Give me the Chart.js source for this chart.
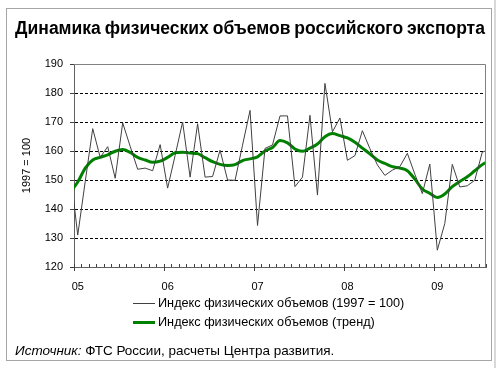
<!DOCTYPE html>
<html>
<head>
<meta charset="utf-8">
<script src="https://cdn.jsdelivr.net/npm/chart.js@4.4.1/dist/chart.umd.min.js"></script>
<style>
body{margin:0;background:#fff;font-family:"Liberation Sans",Arial,sans-serif;color:#000;}
#wrap{position:relative;width:500px;height:368px;overflow:hidden;background:#fff;}
#frame{position:absolute;left:6px;top:8px;width:484px;height:351px;border:1px solid #a6a6a6;}
#shade{position:absolute;left:494px;top:0;width:2px;height:368px;background:#d8d8d8;}
#chart{position:absolute;left:0;top:0;}
#title{position:absolute;left:0;top:18px;width:500px;text-align:center;font-weight:bold;font-size:17.5px;line-height:21px;word-spacing:-1px;}
.leg{position:absolute;left:133px;font-size:12.7px;line-height:14px;height:14px;white-space:nowrap;}
.leg i{display:inline-block;width:22px;vertical-align:middle;margin-right:3px;}
#src{position:absolute;left:15px;top:343px;font-size:13.5px;line-height:16px;white-space:nowrap;}
</style>
</head>
<body>
<div id="wrap">
  <div id="frame"></div>
  <div id="shade"></div>
  <canvas id="chart" width="500" height="300"></canvas>
  <div id="title">Динамика физических объемов российского экспорта</div>
  <div class="leg" style="top:296px"><i style="border-top:1px solid #404040"></i>Индекс физических объемов (1997 = 100)</div>
  <div class="leg" style="top:315px"><i style="border-top:3px solid #008000"></i>Индекс физических объемов (тренд)</div>
  <div id="src"><i>Источник:</i> ФТС России, расчеты Центра развития.</div>
</div>
<script>
// month index 0 = январь 2005; the series start one month earlier (Dec 2004), edge is clipped
var firstMonth = -1;
var yearStart = [0, 12, 24, 36, 48];
var yearLabels = ['05', '06', '07', '08', '09'];

var indexValues = [
  153, 131, 149.5, 167.7, 157.8, 161.5, 150.6, 169.7, 161.6, 153.7, 154.1, 153.2, 162.2,
  147.2, 158.5, 170, 151, 169.4, 151, 151.2, 160.3, 150, 149.9, 162, 174,
  134.3, 160.9, 162.1, 172.1, 172.1, 147.7, 151, 172.3, 144.8, 183.3, 166.6, 171.4,
  156.8, 158.4, 167, 160.8, 155.2, 151.6, 153.4, 154.6, 159.2, 152, 145.3, 155.5,
  125.8, 135, 155.4, 147.6, 148, 149.9, 159.6, 160.5
];
var trendValues = [
  145.8, 149.3, 154.1, 156.9, 157.8, 158.7, 159.9, 160.5, 159.5, 157.8, 156.9, 156.1, 156.5,
  157.8, 159.4, 159.6, 159.3, 159.1, 157.7, 156.3, 155.4, 155, 155.3, 156.7, 157.3,
  158, 160, 161.2, 163.6, 162.8, 160.7, 159.9, 161, 162.4, 164.9, 166, 165.3,
  164.5, 163, 161, 159, 156.9, 155.7, 154.6, 154.1, 153.2, 150.3, 146.9, 145.4,
  144, 145.2, 147.7, 149.5, 151.1, 153.2, 155.3, 156.8
];

function toPoints(arr){
  return arr.map(function(v, k){ return {x: firstMonth + k, y: v}; });
}

Chart.defaults.font.family = '"Liberation Sans", Arial, sans-serif';
Chart.defaults.color = '#000';

var plotFrame = {
  id: 'plotFrame',
  afterDraw: function(chart){
    var ctx = chart.ctx, a = chart.chartArea, x = chart.scales.x;
    ctx.save();
    ctx.strokeStyle = '#808080';
    ctx.lineWidth = 1;
    ctx.beginPath();
    ctx.moveTo(a.left, a.top + 0.5);
    ctx.lineTo(a.right - 0.5, a.top + 0.5);
    ctx.lineTo(a.right - 0.5, a.bottom);
    ctx.stroke();
    ctx.strokeStyle = '#404040';
    for (var m = -0.5; m <= 54.5; m++) {
      var px = Math.round(x.getPixelForValue(m)) + 0.5;
      var major = ((m + 0.5) % 12) === 0;
      ctx.beginPath();
      ctx.moveTo(px, a.bottom - 3);
      ctx.lineTo(px, a.bottom + (major ? 4 : 0));
      ctx.stroke();
    }
    ctx.restore();
  }
};

new Chart(document.getElementById('chart'), {
  type: 'line',
  data: {
    datasets: [{
      label: 'Индекс физических объемов (1997 = 100)',
      data: toPoints(indexValues),
      borderColor: '#404040',
      borderWidth: 1,
      pointRadius: 0,
      tension: 0,
      clip: 0
    }, {
      label: 'Индекс физических объемов (тренд)',
      data: toPoints(trendValues),
      borderColor: '#008000',
      borderWidth: 3,
      pointRadius: 0,
      cubicInterpolationMode: 'monotone',
      clip: 0
    }]
  },
  options: {
    responsive: false,
    animation: false,
    layout: {padding: {top: 64, right: 14, left: 0, bottom: 0}},
    plugins: {legend: {display: false}, tooltip: {enabled: false}},
    scales: {
      x: {
        type: 'linear',
        min: -0.5,
        max: 54.5,
        afterBuildTicks: function(s){ s.ticks = yearStart.map(function(v){ return {value: v}; }); },
        afterFit: function(s){ s.height = 33; },
        grid: {display: false},
        border: {color: '#606060', width: 1},
        ticks: {
          autoSkip: false, maxRotation: 0, padding: 5,
          font: {size: 11},
          callback: function(v, i){ return yearLabels[i]; }
        }
      },
      y: {
        min: 120,
        max: 190,
        afterFit: function(s){ s.width = 74; },
        ticks: {stepSize: 10, padding: 7, font: {size: 11}},
        grid: {
          color: function(c){ return (c.tick && (c.tick.value === 120 || c.tick.value === 190)) ? 'rgba(0,0,0,0)' : '#000'; },
          tickColor: '#404040',
          tickLength: 4
        },
        border: {color: '#606060', width: 1, dash: [3, 2]},
        title: {display: true, text: '1997 = 100', font: {size: 11}, padding: {top: 20, bottom: 0}}
      }
    }
  },
  plugins: [plotFrame]
});
</script>
</body>
</html>
